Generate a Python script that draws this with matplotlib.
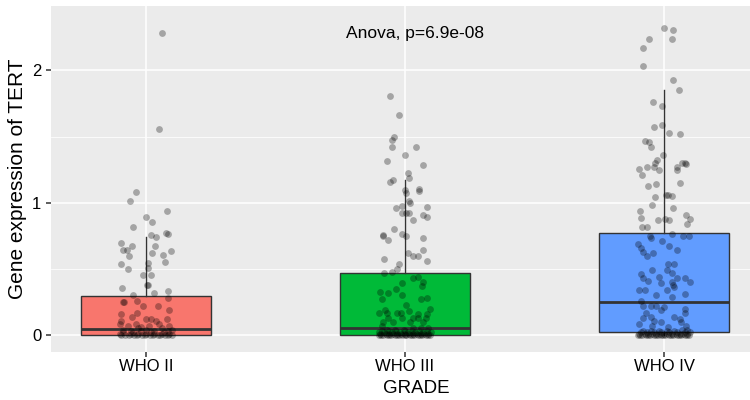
import matplotlib
matplotlib.use("Agg")
import matplotlib.pyplot as plt
from matplotlib.ticker import MultipleLocator

# ─── data ───────────────────────────────────────────────────────────────────

GRADES = ["WHO II", "WHO III", "WHO IV"]
FILLS = ["#F8766D", "#00BA38", "#619CFF"]

# box statistics: lower whisker, Q1, median, Q3, upper whisker
box_q1 = [0.0, 0.0, 0.02]
box_med = [0.045, 0.053, 0.252]
box_q3 = [0.297, 0.466, 0.769]
box_whislo = [0.0, 0.0, 0.0]
box_whishi = [0.738, 1.17, 1.85]

# jittered samples: horizontal jitter and expression value
who2_dx = [0.063, 0.05, -0.04, -0.062, 0.081, 0.0, -0.049, 0.024, 0.019, 0.037,
           0.076, 0.084, -0.098, -0.088, -0.075, -0.055, -0.064, 0.035, 0.022, 0.097,
           0.073, 0.067, -0.097, -0.068, 0.006, 0.006, -0.013, 0.019, 0.009, 0.003,
           -0.094, 0.031, 0.084, -0.049, 0.086, -0.09, -0.084, -0.035, -0.01, 0.047,
           0.087, -0.095, -0.035, -0.055, 0.0, 0.02, 0.04, 0.08, -0.095,
           -0.1, -0.07, -0.04, -0.02, 0.01, 0.05, 0.09, -0.09, -0.06, -0.03,
           0.0, 0.03, 0.06, 0.1, -0.1, -0.08, -0.06, -0.045, -0.03, -0.015,
           0.0, 0.015, 0.03, 0.045, 0.06, 0.075, 0.09, 0.1, -0.09, -0.05,
           0.02, 0.07, 0.085, -0.02, -0.095, -0.065, -0.035, -0.005, 0.025, 0.055,
           0.085]
who2_y = [2.28, 1.56, 1.08, 1.01, 0.935, 0.89, 0.814, 0.857, 0.758, 0.743,
          0.77, 0.765, 0.693, 0.642, 0.645, 0.673, 0.60, 0.673, 0.622, 0.635,
          0.554, 0.605, 0.537, 0.497, 0.542, 0.51, 0.453, 0.453, 0.378, 0.378,
          0.353, 0.32, 0.333, 0.30, 0.28, 0.252, 0.25, 0.26, 0.22, 0.22,
          0.19, 0.16, 0.17, 0.14, 0.12, 0.12, 0.11, 0.12, 0.11,
          0.08, 0.07, 0.08, 0.06, 0.07, 0.08, 0.07, 0.04, 0.03, 0.05,
          0.04, 0.03, 0.05, 0.04, 0.01, 0.0, 0.01, 0.0, 0.01, 0.0,
          0.01, 0.0, 0.01, 0.0, 0.01, 0.0, 0.01, 0.0, 0.02, 0.02,
          0.02, 0.02, 0.03, 0.03, 0.0, 0.0, 0.0, 0.0, 0.0, 0.0,
          0.0]

who3_dx = [-0.058, -0.025, -0.041, -0.052, -0.05, 0.042, -0.071, 0.0, 0.068, 0.01,
           0.017, -0.048, -0.058, 0.053, 0.053, 0.0, 0.002, 0.014, 0.02, -0.012,
           -0.035, 0.085, -0.01, 0.005, 0.015, 0.068, 0.085, 0.03, -0.041, -0.087,
           -0.084, -0.064, -0.013, 0.002, 0.068, -0.08, 0.01, 0.03, 0.05, 0.07,
           0.085, -0.022, -0.03, -0.05, -0.08, 0.03, 0.05, -0.012, 0.07, 0.064,
           -0.097, -0.065, -0.036, -0.01, 0.06, 0.085, -0.09, 0.005, 0.015, 0.095,
           -0.077, -0.07, -0.03, -0.015, 0.05, 0.085, -0.1, -0.065, -0.01, 0.03,
           0.05, 0.08, -0.085, -0.045, 0.02, 0.07, -0.09,
           -0.1, -0.085, -0.07, -0.055, -0.04, -0.025, -0.01, 0.005, 0.02, 0.035,
           0.05, 0.065, 0.08, 0.095, -0.095, -0.075, -0.06, -0.045, -0.03, -0.015,
           0.0, 0.015, 0.03, 0.045, 0.06, 0.075, 0.09, -0.1, -0.08, -0.05,
           -0.02, 0.01, 0.04, 0.07, 0.1, -0.09, -0.06, -0.035, 0.0, 0.025,
           0.055, 0.085, -0.07, -0.04, -0.005, 0.03, 0.06, 0.09,
           -0.092, -0.062, -0.032, -0.002, 0.028, 0.058, 0.088]
who3_y = [1.806, 1.663, 1.50, 1.474, 1.423, 1.419, 1.317, 1.36, 1.285, 1.227,
          1.184, 1.172, 1.154, 1.106, 1.09, 1.10, 1.07, 1.015, 1.0, 0.977,
          0.962, 0.97, 0.92, 0.925, 0.925, 0.907, 0.894, 0.869, 0.80, 0.756,
          0.752, 0.718, 0.761, 0.75, 0.733, 0.574, 0.62, 0.60, 0.60, 0.64,
          0.56, 0.54, 0.50, 0.48, 0.47, 0.43, 0.44, 0.39, 0.40, 0.37,
          0.327, 0.315, 0.345, 0.30, 0.27, 0.28, 0.27, 0.23, 0.18, 0.20,
          0.19, 0.17, 0.17, 0.17, 0.16, 0.16, 0.17, 0.13, 0.13, 0.13,
          0.13, 0.13, 0.10, 0.10, 0.10, 0.10, 0.07,
          0.0, 0.0, 0.0, 0.0, 0.0, 0.0, 0.0, 0.0, 0.0, 0.0,
          0.0, 0.0, 0.0, 0.0, 0.01, 0.01, 0.01, 0.01, 0.01, 0.01,
          0.01, 0.01, 0.01, 0.01, 0.01, 0.01, 0.01, 0.02, 0.02, 0.02,
          0.02, 0.02, 0.02, 0.02, 0.02, 0.03, 0.03, 0.03, 0.03, 0.03,
          0.03, 0.03, 0.04, 0.04, 0.04, 0.05, 0.05, 0.05,
          0.0, 0.0, 0.0, 0.0, 0.0, 0.0, 0.0]

who4_dx = [0.0, 0.033, 0.031, -0.057, -0.082, -0.08, 0.033, 0.059, -0.044, -0.009,
           -0.04, -0.007, 0.02, 0.062, -0.073, -0.057, -0.05, -0.003, -0.026, -0.034,
           0.07, 0.08, 0.086, -0.095, -0.067, -0.037, -0.02, 0.05, 0.052, -0.086,
           -0.063, -0.031, 0.063, -0.036, 0.008, 0.017, 0.032, -0.045, 0.036, -0.094,
           -0.09, -0.022, 0.004, 0.018, 0.084, 0.1, 0.087, -0.065,
           -0.085, -0.055, -0.052, 0.032, 0.074, 0.098, -0.009, -0.1, -0.088, -0.08,
           0.02, -0.044, -0.067, 0.05, 0.014, 0.04, -0.045, 0.01, 0.03, -0.09,
           -0.08, -0.06, -0.02, 0.05, 0.08, 0.1, 0.03, 0.04, 0.035, -0.01,
           -0.095, -0.075, 0.01, -0.03, 0.08, 0.03, -0.09, -0.05, -0.03, 0.0,
           -0.08, 0.08, -0.07, -0.01, 0.08, -0.08, -0.05, 0.04, 0.06, -0.04,
           -0.01, 0.065, -0.095, -0.045, 0.015, 0.085,
           -0.1, -0.085, -0.07, -0.055, -0.04, -0.025, -0.01, 0.005, 0.02, 0.035,
           0.05, 0.065, 0.08, 0.095, -0.095, -0.075, -0.06, -0.045, -0.03, -0.015,
           0.0, 0.015, 0.03, 0.045, 0.06, 0.075, 0.09, -0.09, -0.065, -0.04,
           -0.01, 0.02, 0.05, 0.08, 0.1, -0.08, -0.05, -0.02, 0.01, 0.04,
           0.07, 0.09, -0.092, -0.062, -0.032, -0.002, 0.028, 0.058, 0.088]
who4_y = [2.32, 2.305, 2.24, 2.235, 2.17, 2.03, 1.93, 1.85, 1.76, 1.733,
          1.575, 1.585, 1.525, 1.517, 1.464, 1.459, 1.423, 1.363, 1.32, 1.30,
          1.297, 1.30, 1.295, 1.255, 1.272, 1.27, 1.25, 1.27, 1.25, 1.21,
          1.126, 1.14, 1.146, 1.045, 1.06, 1.055, 1.05, 0.985, 0.962, 0.937,
          0.884, 0.87, 0.88, 0.87, 0.907, 0.88, 0.839, 0.82,
          0.82, 0.75, 0.73, 0.763, 0.75, 0.75, 0.713, 0.685, 0.66, 0.63,
          0.67, 0.617, 0.60, 0.64, 0.537, 0.537, 0.49, 0.49, 0.47, 0.46,
          0.43, 0.41, 0.44, 0.43, 0.43, 0.40, 0.40, 0.36, 0.38, 0.39,
          0.34, 0.34, 0.34, 0.30, 0.31, 0.29, 0.26, 0.22, 0.22, 0.21,
          0.22, 0.20, 0.17, 0.19, 0.17, 0.13, 0.14, 0.14, 0.12, 0.11,
          0.10, 0.10, 0.08, 0.07, 0.06, 0.07,
          0.0, 0.0, 0.0, 0.0, 0.0, 0.0, 0.0, 0.0, 0.0, 0.0,
          0.0, 0.0, 0.0, 0.0, 0.01, 0.01, 0.01, 0.01, 0.01, 0.01,
          0.01, 0.01, 0.01, 0.01, 0.01, 0.01, 0.01, 0.02, 0.02, 0.02,
          0.02, 0.02, 0.02, 0.02, 0.02, 0.03, 0.03, 0.03, 0.03, 0.03,
          0.04, 0.04, 0.0, 0.0, 0.0, 0.0, 0.0, 0.0, 0.0]

ANOVA_TEXT = "Anova, p=6.9e-08"

# ─── figure ─────────────────────────────────────────────────────────────────

plt.rcParams["font.family"] = ["Liberation Sans", "DejaVu Sans"]

fig = plt.figure(figsize=(7.5, 4), dpi=100)
ax = fig.add_axes([0.068, 0.12, 0.932, 0.865])
ax.set_facecolor("#EBEBEB")
for spine in ax.spines.values():
    spine.set_visible(False)

ax.set_xlim(0.633, 3.332)
ax.set_ylim(-0.128, 2.487)

# ggplot-like grid
ax.yaxis.set_major_locator(MultipleLocator(1))
ax.yaxis.set_minor_locator(MultipleLocator(0.5))
ax.grid(True, which="major", color="white", linewidth=1.1)
ax.grid(True, which="minor", axis="y", color="white", linewidth=0.55)
ax.set_axisbelow(True)

positions = [1, 2, 3]
stats = []
for i, g in enumerate(GRADES):
    stats.append({
        "label": g,
        "whislo": box_whislo[i],
        "q1": box_q1[i],
        "med": box_med[i],
        "q3": box_q3[i],
        "whishi": box_whishi[i],
        "fliers": [],
    })

bp = ax.bxp(stats, positions=positions, widths=0.5, patch_artist=True,
            showcaps=False, showfliers=False,
            boxprops=dict(edgecolor="#333333", linewidth=1.0),
            medianprops=dict(color="#333333", linewidth=2.0),
            whiskerprops=dict(color="#333333", linewidth=1.0))
for patch, c in zip(bp["boxes"], FILLS):
    patch.set_facecolor(c)

# jittered points
for pos, dx, y in zip(positions, [who2_dx, who3_dx, who4_dx], [who2_y, who3_y, who4_y]):
    ax.scatter([pos + d for d in dx], y, s=24, color="black", alpha=0.3,
               linewidths=0, zorder=3)

ax.text(2.04, 2.28, ANOVA_TEXT, ha="center", va="center", fontsize=12.5, color="black")

ax.set_xticks(positions)
ax.set_xticklabels(GRADES)
ax.tick_params(axis="both", which="major", length=3.5, width=1.1, color="#333333",
               labelsize=12, labelcolor="black")
ax.tick_params(axis="x", which="major", pad=1.5)
ax.tick_params(axis="y", which="minor", length=0)
ax.set_yticks([0, 1, 2])
ax.set_yticklabels(["0", "1", "2"])

ax.set_xlabel("GRADE", fontsize=13.5)
ax.set_ylabel("Gene expression of TERT", fontsize=15)
ax.xaxis.set_label_coords(0.523, -0.082)
ax.yaxis.set_label_coords(-0.034, 0.5)

fig.savefig("out.png", dpi=100)
